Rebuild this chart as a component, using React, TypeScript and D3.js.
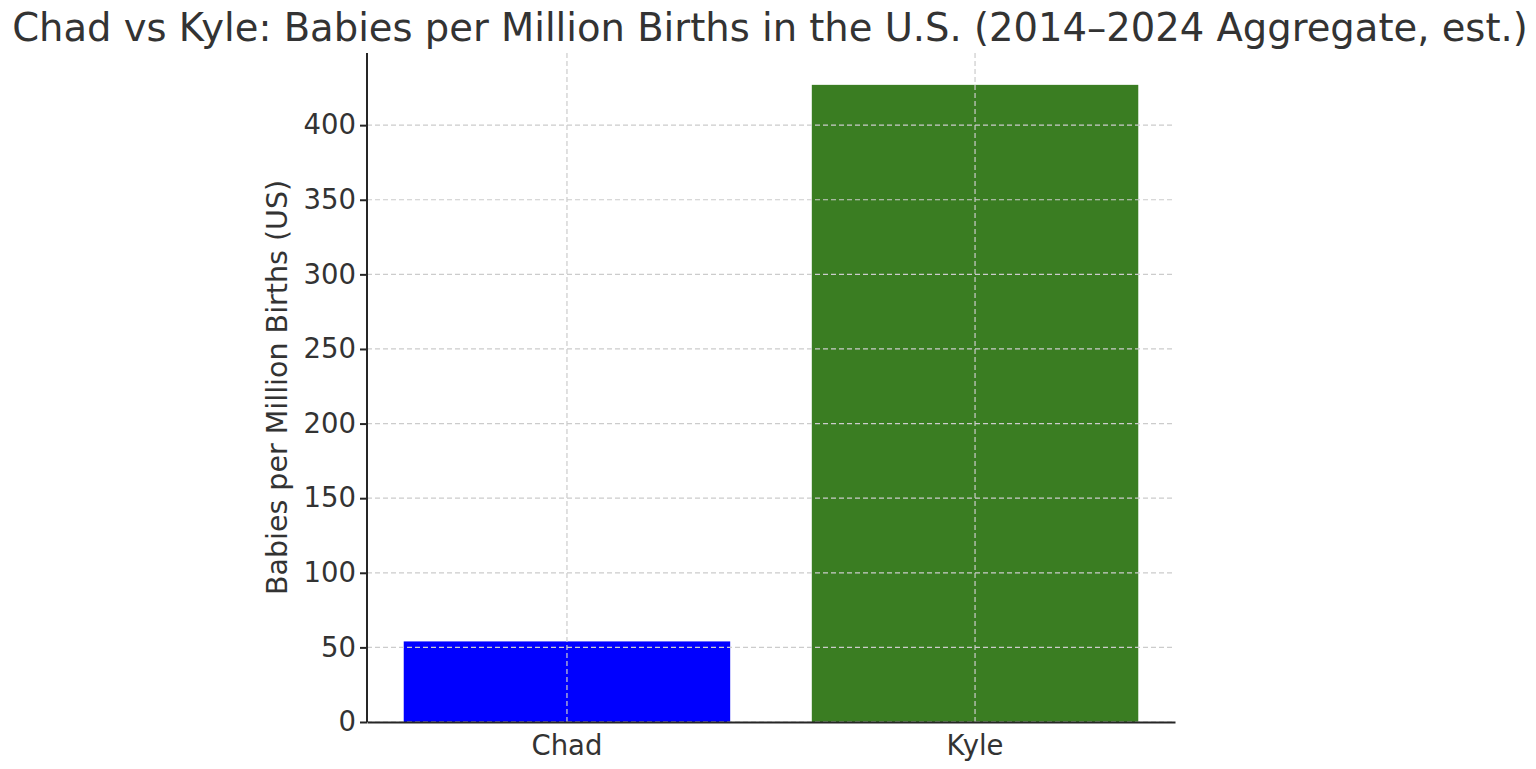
// Dependencies
import React, { useRef, useEffect } from "react";
import * as d3 from "d3";

const categories = ["Chad", "Kyle"];
const values = [54, 427];
const barColors = ["#0000ff", "#3a7d22"];
const yTicks = [0, 50, 100, 150, 200, 250, 300, 350, 400];

const App: React.FC = () => {
  const chartRef = useRef<SVGSVGElement | null>(null);

  useEffect(() => {
    if (!chartRef.current) return;
    const width = 1536;
    const height = 769;
    const margin = { top: 53, right: 361, bottom: 47, left: 367 };
    const chartWidth = width - margin.left - margin.right;
    const chartHeight = height - margin.top - margin.bottom;
    const font = "DejaVu Sans, sans-serif";
    const textColor = "#333333";

    const svg = d3.select(chartRef.current);
    svg.selectAll("*").remove();

    const g = svg
      .append("g")
      .attr("transform", `translate(${margin.left},${margin.top})`);

    // Scales
    const xScale = d3
      .scaleBand<string>()
      .domain(categories)
      .range([0, chartWidth])
      .paddingInner(0.2)
      .paddingOuter(0.09);
    const yScale = d3
      .scaleLinear()
      .domain([0, d3.max(values)! * 1.05])
      .range([chartHeight, 0]);

    // Bars
    g.append("g")
      .selectAll("rect")
      .data(values)
      .join("rect")
      .attr("x", (_d, i) => xScale(categories[i])!)
      .attr("y", (d) => yScale(d))
      .attr("width", xScale.bandwidth())
      .attr("height", (d) => chartHeight - yScale(d))
      .attr("fill", (_d, i) => barColors[i]);

    // Grid (drawn above bars)
    const grid = g.append("g").attr("class", "grid");
    grid
      .selectAll("line.h")
      .data(yTicks)
      .join("line")
      .attr("class", "h")
      .attr("x1", 0)
      .attr("x2", chartWidth)
      .attr("y1", (d) => yScale(d))
      .attr("y2", (d) => yScale(d));
    grid
      .selectAll("line.v")
      .data(categories)
      .join("line")
      .attr("class", "v")
      .attr("x1", (d) => xScale(d)! + xScale.bandwidth() / 2)
      .attr("x2", (d) => xScale(d)! + xScale.bandwidth() / 2)
      .attr("y1", 0)
      .attr("y2", chartHeight);
    grid
      .selectAll("line")
      .attr("stroke", "#cccccc")
      .attr("stroke-width", 1.2)
      .attr("stroke-dasharray", "5,3");

    // Axes
    const yAxis = d3
      .axisLeft(yScale)
      .tickValues(yTicks)
      .tickSize(7)
      .tickPadding(4)
      .tickSizeOuter(0);
    const xAxis = d3.axisBottom(xScale).tickSize(0).tickPadding(10).tickSizeOuter(0);

    const yG = g.append("g").call(yAxis);
    const xG = g
      .append("g")
      .attr("transform", `translate(0,${chartHeight})`)
      .call(xAxis);

    [yG, xG].forEach((ax) => {
      ax.select(".domain").attr("stroke", "#262626").attr("stroke-width", 2);
      ax.selectAll(".tick line").attr("stroke", "#262626").attr("stroke-width", 2);
      ax.selectAll(".tick text")
        .attr("fill", textColor)
        .style("font-family", font)
        .style("font-size", "27.5px");
    });
    xG.selectAll(".tick text").attr("dy", "0.85em");
    yG.select(".domain").attr("d", `M0,${chartHeight}V0`);

    // Y label
    g.append("text")
      .attr("transform", `translate(-80,${chartHeight / 2}) rotate(-90)`)
      .attr("text-anchor", "middle")
      .attr("fill", textColor)
      .style("font-family", font)
      .style("font-size", "28.5px")
      .text("Babies per Million Births (US)");

    // Title
    svg
      .append("text")
      .attr("x", 770)
      .attr("y", 41)
      .attr("text-anchor", "middle")
      .attr("fill", textColor)
      .style("font-family", font)
      .style("font-size", "38.5px")
      .text("Chad vs Kyle: Babies per Million Births in the U.S. (2014–2024 Aggregate, est.)");
  }, []);

  return (
    <svg
      ref={chartRef}
      width={1536}
      height={769}
      style={{ position: "absolute", left: 0, top: 0, background: "#fff" }}
    />
  );
};

export default App;
